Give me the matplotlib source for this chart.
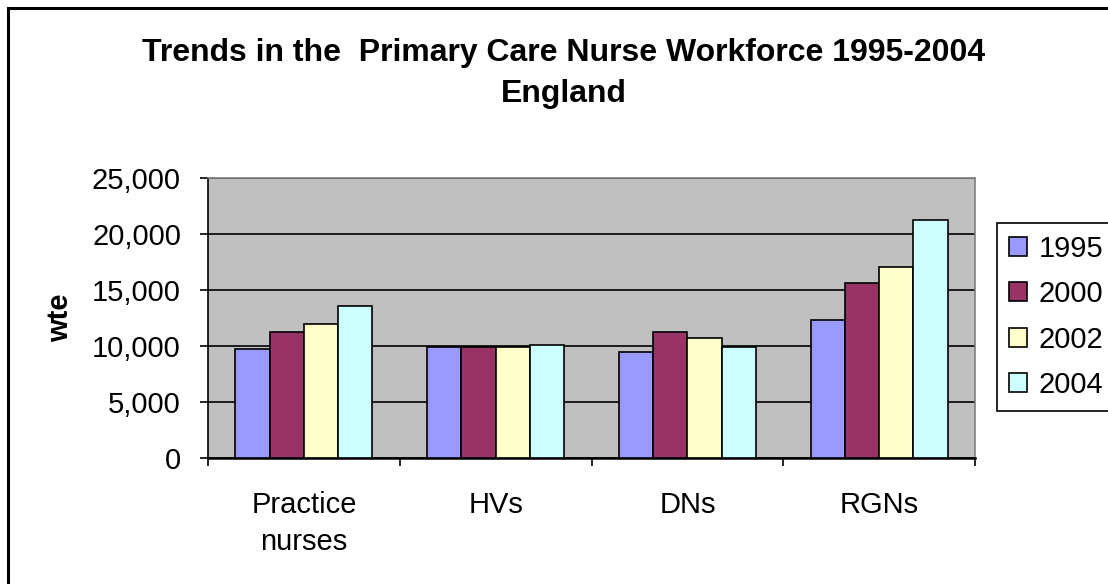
import matplotlib
matplotlib.use("Agg")
import matplotlib.pyplot as plt
import numpy as np
from matplotlib.patches import Rectangle
from matplotlib.ticker import FixedLocator, NullFormatter, StrMethodFormatter

# primary care nurse workforce (wte)
categories = ["Practice\nnurses", "HVs", "DNs", "RGNs"]
years = ["1995", "2000", "2002", "2004"]
wte_1995 = [9730, 9910, 9460, 12330]
wte_2000 = [11220, 9910, 11250, 15610]
wte_2002 = [11930, 9900, 10720, 17070]
wte_2004 = [13570, 10120, 9940, 21280]
colors = ["#9999FF", "#993366", "#FFFFCC", "#CCFFFF"]

plt.rcParams["font.family"] = ["Liberation Sans", "DejaVu Sans"]

fig = plt.figure(figsize=(11.08, 5.84), dpi=100)
ax = fig.add_axes([208 / 1108, 1 - 458 / 584, 767 / 1108, 280 / 584])

# outer frame (right/bottom edges fall outside the picture)
fig.patches.append(Rectangle((8 / 1108, -0.05), 1.2, 1 - 8 / 584 + 0.05,
                             transform=fig.transFigure, fill=False,
                             edgecolor="black", linewidth=2.2))

series = [wte_1995, wte_2000, wte_2002, wte_2004]
width = 0.1786
x = np.arange(len(categories))
for j, (vals, yr, c) in enumerate(zip(series, years, colors)):
    ax.bar(x + 0.5 + (j - 1.5) * width, vals, width, color=c,
           edgecolor="black", linewidth=1.2, label=yr, zorder=3)

ax.set_facecolor("#C0C0C0")
ax.set_xlim(0, 4)
ax.set_ylim(0, 25000)
ax.set_yticks(range(0, 25001, 5000))
ax.yaxis.set_major_formatter(StrMethodFormatter("{x:,.0f}"))
ax.grid(axis="y", color="black", linewidth=1.2, zorder=1)
ax.set_axisbelow(True)

ax.xaxis.set_major_locator(FixedLocator([0, 1, 2, 3, 4]))
ax.xaxis.set_major_formatter(NullFormatter())
ax.xaxis.set_minor_locator(FixedLocator(x + 0.5))
ax.set_xticklabels(categories, minor=True, linespacing=1.4)
ax.tick_params(axis="x", which="major", length=5.5, width=1.2, direction="out")
ax.tick_params(axis="x", which="minor", length=0, pad=24, labelsize=21)
ax.tick_params(axis="y", length=5.5, width=1.2, direction="out", pad=14,
               labelsize=21)

for s in ("top", "right"):
    ax.spines[s].set_color("#808080")
    ax.spines[s].set_linewidth(1.2)
ax.spines["left"].set_linewidth(1.2)
ax.spines["bottom"].set_linewidth(1.8)

ax.set_ylabel("wte", fontsize=21, fontweight="bold")
ax.yaxis.set_label_coords(-0.175, 0.5)

fig.text(564 / 1108, 1 - 61 / 584,
         "Trends in the  Primary Care Nurse Workforce 1995-2004",
         ha="center", va="baseline", fontsize=23, fontweight="bold")
fig.text(564 / 1108, 1 - 102 / 584, "England",
         ha="center", va="baseline", fontsize=23, fontweight="bold")

leg = ax.legend(loc="upper left", bbox_to_anchor=(997 / 1108, 1 - 223 / 584),
                bbox_transform=fig.transFigure, fontsize=21, frameon=True,
                fancybox=False, edgecolor="black", framealpha=1,
                handlelength=0.62, handleheight=0.62, handletextpad=0.4,
                labelspacing=0.6, borderpad=0.4, borderaxespad=0)
leg.get_frame().set_linewidth(1.2)

fig.savefig("out.png", dpi=100)
